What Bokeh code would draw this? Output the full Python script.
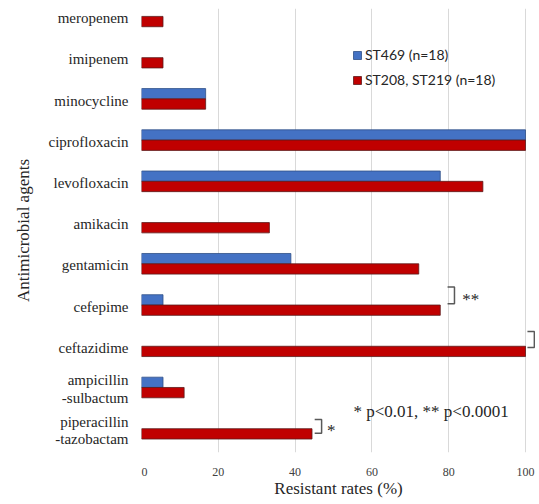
from bokeh.plotting import figure
from bokeh.layouts import row
from bokeh.models import (Range1d, FixedTicker, Legend, LegendItem,
                          ColumnDataSource, CDSView, BooleanFilter)
from bokeh.transform import dodge
from bokeh.core.properties import value
from bokeh.embed import file_html
from bokeh.resources import INLINE

# ---- data ----
categories = ["meropenem", "imipenem", "minocycline", "ciprofloxacin",
              "levofloxacin", "amikacin", "gentamicin", "cefepime",
              "ceftazidime", "ampicillin\n-sulbactum", "piperacillin\n-tazobactam"]
st469 = [0, 0, 16.7, 100, 77.8, 0, 38.9, 5.6, 0, 5.6, 0]
st208_219 = [5.6, 5.6, 16.7, 100, 88.9, 33.3, 72.2, 77.8, 100, 11.1, 44.4]
series_names = ["ST469 (n=18)", "ST208, ST219 (n=18)"]
x_ticks = [0, 20, 40, 60, 80, 100]
x_title = "Resistant rates (%)"
y_title = "Antimicrobial agents"
note_text = "* p<0.01, ** p<0.0001"
sig_categories = ["cefepime", "ceftazidime", "piperacillin\n-tazobactam"]
sig_marks = ["**", "", "*"]

pos = {c: len(categories) - 1 - i for i, c in enumerate(categories)}
ypos = [pos[c] for c in categories]

BLUE = "#4472C4"
RED = "#C00000"
SERIF = "Liberation Serif"
DARK = "#262626"

y_range = Range1d(-0.577, 10.192)

# ---------- category label panel (left) ----------
lab = figure(width=141, height=500, output_backend="svg", toolbar_location=None,
             x_range=Range1d(-107, 0), y_range=y_range,
             min_border_left=34, min_border_right=0, min_border_top=8,
             min_border_bottom=44)
lab.outline_line_color = None
lab.grid.visible = False
lab.xaxis.visible = False
la = lab.yaxis[0]
la.ticker = FixedTicker(ticks=[])
la.axis_line_color = None
la.major_tick_line_color = None
la.minor_tick_line_color = None
la.axis_label = y_title
la.axis_label_text_font = SERIF
la.axis_label_text_font_style = "normal"
la.axis_label_text_font_size = "17px"
la.axis_label_text_color = DARK
la.axis_label_standoff = 2

lab_src = ColumnDataSource(dict(y=[v - 0.04 for v in ypos], name=categories))
lab.text(x=-13, y="y", text="name", source=lab_src,
         text_font=value(SERIF), text_font_size="15px", text_color=DARK,
         text_align="right", text_baseline="middle", text_line_height=1.1)

# ---------- main bar chart ----------
p = figure(width=394, height=500, output_backend="svg", toolbar_location=None,
           x_range=Range1d(0, 102.6), y_range=y_range,
           min_border_left=0, min_border_right=0, min_border_top=8,
           min_border_bottom=44)
p.outline_line_color = None

src_a = ColumnDataSource(dict(y=ypos, v=st469))
src_b = ColumnDataSource(dict(y=ypos, v=st208_219))
view_a = CDSView(filter=BooleanFilter([v > 0 for v in st469]))
view_b = CDSView(filter=BooleanFilter([v > 0 for v in st208_219]))

r_a = p.hbar(y=dodge("y", 0.125, range=p.y_range), left=0, right="v", height=0.25,
             source=src_a, view=view_a, fill_color=BLUE, line_color="#2f4f86",
             line_width=0.8)
r_b = p.hbar(y=dodge("y", -0.125, range=p.y_range), left=0, right="v", height=0.25,
             source=src_b, view=view_b, fill_color=RED, line_color="#5a1a1a",
             line_width=0.8)

xa = p.xaxis[0]
xa.ticker = FixedTicker(ticks=x_ticks)
xa.axis_line_color = None
xa.major_tick_line_color = None
xa.minor_tick_line_color = None
xa.major_label_text_font = SERIF
xa.major_label_text_font_size = "12px"
xa.major_label_text_color = "#404040"
xa.major_label_standoff = 9
xa.axis_label = x_title
xa.axis_label_text_font = SERIF
xa.axis_label_text_font_style = "normal"
xa.axis_label_text_font_size = "17px"
xa.axis_label_text_color = DARK
xa.axis_label_standoff = 0

p.yaxis.visible = False
p.xgrid.ticker = FixedTicker(ticks=x_ticks)
p.xgrid.grid_line_color = "#d9d9d9"
p.ygrid.grid_line_color = None

# significance brackets
br_x0 = [79.7, 100.5, 45.1]
br_x1 = [81.5, 102.3, 46.9]
br_top = [0.437, 0.355, 0.223]
br_bot = [0.029, -0.029, -0.113]
xs, ys = [], []
for c, x0, x1, t, b in zip(sig_categories, br_x0, br_x1, br_top, br_bot):
    yc = pos[c]
    xs.append([x0, x1, x1, x0])
    ys.append([yc + t, yc + t, yc + b, yc + b])
p.multi_line(xs=xs, ys=ys, line_color="#595959", line_width=1.5)

mark_x = [83.5, None, 48.3]
for c, m, mx, t, b in zip(sig_categories, sig_marks, mark_x, br_top, br_bot):
    if m:
        p.text(x=[mx], y=[pos[c] + (t + b) / 2 - 0.1], text=[m],
               text_font=value(SERIF), text_font_size="17px",
               text_color=DARK, text_baseline="middle", text_align="left")

p.text(x=[55.2], y=[pos["piperacillin\n-tazobactam"] + 0.42], text=[note_text],
       text_font=value(SERIF), text_font_size="17px", text_color=DARK,
       text_baseline="middle", text_align="left")

legend = Legend(items=[LegendItem(label=series_names[0], renderers=[r_a]),
                       LegendItem(label=series_names[1], renderers=[r_b])],
                location=(211, 364), orientation="vertical")
legend.label_text_font = "Lato"
legend.label_text_font_size = "14px"
legend.label_text_color = DARK
legend.glyph_width = 10
legend.glyph_height = 10
legend.label_standoff = 3
legend.spacing = 8
legend.padding = 0
legend.margin = 0
legend.border_line_color = None
legend.background_fill_alpha = 0
p.add_layout(legend)

layout = row(lab, p, spacing=0)
open("out.html", "w").write(file_html(layout, INLINE))
